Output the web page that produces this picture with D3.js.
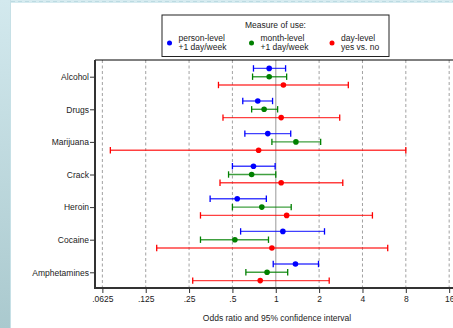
<!DOCTYPE html>
<html>
<head>
<meta charset="utf-8">
<script src="https://cdn.jsdelivr.net/npm/d3@7"></script>
<style>
  body { margin: 0; background: #fff; }
  svg { display: block; font-family: "Liberation Sans", Arial, sans-serif; }
</style>
</head>
<body>
<div id="chart"></div>
<script>
// substances, top to bottom
const substances = ["Alcohol", "Drugs", "Marijuana", "Crack", "Heroin", "Cocaine", "Amphetamines"];
const measures = ["person-level", "month-level", "day-level"];
const measureLines = [["person-level", "+1 day/week"], ["month-level", "+1 day/week"], ["day-level", "yes vs. no"]];
const measureColors = ["#0000ff", "#008000", "#ff0000"];

// odds ratios [lo, estimate, hi] per substance
const personLevel = [
  [0.70, 0.90, 1.17], [0.59, 0.75, 0.95], [0.61, 0.88, 1.27], [0.50, 0.70, 0.99],
  [0.35, 0.54, 0.86], [0.57, 1.12, 2.18], [0.96, 1.37, 1.98]
];
const monthLevel = [
  [0.69, 0.90, 1.19], [0.68, 0.83, 1.03], [0.94, 1.38, 2.05], [0.47, 0.68, 1.00],
  [0.50, 0.80, 1.28], [0.30, 0.52, 0.89], [0.62, 0.87, 1.21]
];
const dayLevel = [
  [0.40, 1.13, 3.19], [0.43, 1.09, 2.78], [0.071, 0.76, 8.0], [0.41, 1.09, 2.92],
  [0.30, 1.19, 4.69], [0.149, 0.94, 5.99], [0.265, 0.78, 2.35]
];
const tickValues = [0.0625, 0.125, 0.25, 0.5, 1, 2, 4, 8, 16];
const tickLabels = [".0625", ".125", ".25", ".5", "1", "2", "4", "8", "16"];

const width = 453, height = 328;
const margin = { top: 60, left: 95, bottom: 288 };

const svg = d3.select("#chart").append("svg")
  .attr("width", width).attr("height", height);

// page background strips
const grad = svg.append("defs").append("linearGradient")
  .attr("id", "side").attr("x1", 0).attr("y1", 0).attr("x2", 0).attr("y2", 1);
grad.append("stop").attr("offset", 0).attr("stop-color", "#d3e9ee");
grad.append("stop").attr("offset", 1).attr("stop-color", "#aac9ce");
svg.append("rect").attr("width", 11).attr("height", height).attr("fill", "url(#side)");
svg.append("rect").attr("x", 11).attr("width", width - 11).attr("height", 3).attr("fill", "#d6ebf0");
svg.append("line").attr("x1", 11).attr("x2", width).attr("y1", 1.5).attr("y2", 1.5)
  .attr("stroke", "#bcdbe2").attr("stroke-dasharray", "4,3");
svg.append("line").attr("x1", 10.5).attr("x2", 10.5).attr("y1", 0).attr("y2", height)
  .attr("stroke", "#c6e0e6");

const x = d3.scaleLog().base(2)
  .domain([Math.pow(2, -4.17), Math.pow(2, 4.3)])
  .range([margin.left, margin.left + 43.35 * 8.47]);

const y = d3.scalePoint().domain(substances)
  .range([76.7, 272.3]);

const plot = svg.append("g");

// grid lines
plot.selectAll("line.grid")
  .data(tickValues)
  .join("line")
  .attr("class", "grid")
  .attr("x1", (d) => x(d)).attr("x2", (d) => x(d))
  .attr("y1", margin.top).attr("y2", margin.bottom)
  .attr("stroke", (d) => (d === 1 ? "#b0b0b0" : "#8a8a8a"))
  .attr("stroke-width", (d) => (d === 1 ? 1.3 : 0.8))
  .attr("stroke-dasharray", (d) => (d === 1 ? null : "3,2.5"));

// top border
plot.append("line").attr("x1", margin.left).attr("x2", width)
  .attr("y1", margin.top).attr("y2", margin.top)
  .attr("stroke", "#000").attr("stroke-width", 1);

// x axis
const gx = svg.append("g").attr("transform", `translate(0, ${margin.bottom})`)
  .call(d3.axisBottom(x).tickValues(tickValues).tickFormat((d, i) => tickLabels[i]).tickSize(5).tickSizeOuter(0));
gx.select(".domain").attr("stroke", "#333").attr("stroke-width", 2)
  .attr("d", `M${margin.left - 1},0H${width}`);
gx.selectAll(".tick line").attr("stroke", "#333").attr("stroke-width", 1);
gx.selectAll(".tick text").attr("font-size", 8.5).attr("fill", "#222").attr("dy", "0.75em");
gx.attr("font-family", null);

svg.append("text").attr("x", 277).attr("y", 321).attr("text-anchor", "middle")
  .attr("font-size", 8.5).attr("fill", "#222")
  .text("Odds ratio and 95% confidence interval");

// y axis
const gy = svg.append("g").attr("transform", `translate(${margin.left}, 0)`)
  .call(d3.axisLeft(y).tickSize(5).tickSizeOuter(0));
gy.select(".domain").attr("stroke", "#333").attr("stroke-width", 2)
  .attr("d", `M0,${margin.top}V${margin.bottom + 1}`);
gy.selectAll(".tick line").attr("stroke", "#333");
gy.selectAll(".tick text").attr("font-size", 8.5).attr("fill", "#222").attr("x", -6);
gy.attr("font-family", null);

// error bars
const seriesData = [personLevel, monthLevel, dayLevel];
const offsets = [-8.3, 0, 8.3];
seriesData.forEach((series, si) => {
  const g = plot.append("g");
  const color = measureColors[si];
  const rows = series.map((v, i) => ({ name: substances[i], lo: v[0], est: v[1], hi: v[2] }));
  const cy = (d) => y(d.name) + offsets[si];
  g.selectAll("line.bar").data(rows).join("line")
    .attr("x1", (d) => x(d.lo)).attr("x2", (d) => x(d.hi))
    .attr("y1", cy).attr("y2", cy)
    .attr("stroke", color).attr("stroke-width", 1.4).attr("stroke-opacity", 0.75);
  ["lo", "hi"].forEach((k) => {
    g.selectAll("line.cap-" + k).data(rows).join("line")
      .attr("x1", (d) => x(d[k])).attr("x2", (d) => x(d[k]))
      .attr("y1", (d) => cy(d) - 3.2).attr("y2", (d) => cy(d) + 3.2)
      .attr("stroke", color).attr("stroke-width", 1.3);
  });
  g.selectAll("circle").data(rows).join("circle")
    .attr("cx", (d) => x(d.est)).attr("cy", cy).attr("r", 2.8)
    .attr("fill", color);
});

// legend
const legend = svg.append("g");
legend.append("rect").attr("x", 162).attr("y", 15).attr("width", 227).attr("height", 41.5)
  .attr("fill", "#fff").attr("stroke", "#222").attr("stroke-width", 1);
legend.append("text").attr("x", 275.5).attr("y", 28).attr("text-anchor", "middle")
  .attr("font-size", 8.5).attr("fill", "#222").text("Measure of use:");
const legendX = [169.5, 251.5, 332];
measures.forEach((m, i) => {
  legend.append("circle").attr("cx", legendX[i]).attr("cy", 43).attr("r", 2.5)
    .attr("fill", measureColors[i]);
  const t = legend.append("text").attr("x", legendX[i] + 9).attr("y", 41)
    .attr("font-size", 8.5).attr("fill", "#222");
  measureLines[i].forEach((line, j) => {
    t.append("tspan").attr("x", legendX[i] + 9).attr("dy", j === 0 ? 0 : 9).text(line);
  });
});
</script>
</body>
</html>
